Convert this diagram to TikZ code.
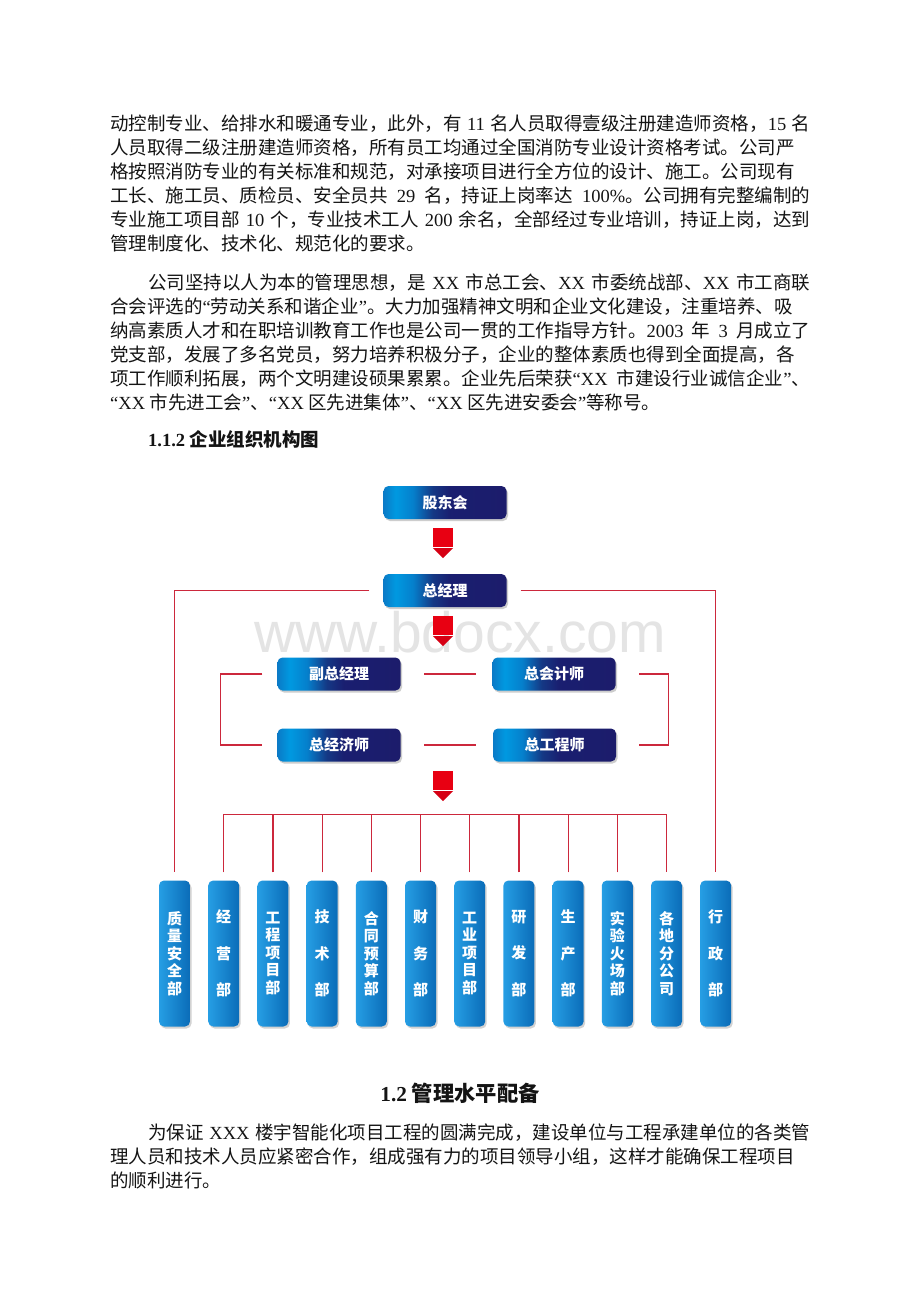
\documentclass[tikz,border=0pt]{standalone}
\usepackage{fontspec}
\setmainfont{Noto Sans CJK SC}
\newfontfamily\tnr{Liberation Serif}
\newfontfamily\wmfont{Liberation Sans}
\newcommand\LT[1]{{\tnr #1}}
\newcommand\bodyfnt{\fontsize{18.5}{24}\selectfont\spaceskip 4.6pt plus 0.6pt minus 0.5pt\relax}
\usetikzlibrary{shadows,calc}
\XeTeXlinebreaklocale "zh"
\XeTeXlinebreakskip=0pt plus 2pt minus 0.5pt
\definecolor{redl}{RGB}{204,40,60}
\definecolor{arrowred}{RGB}{232,0,18}
\definecolor{arrowdark}{RGB}{214,0,20}
\definecolor{wmgray}{RGB}{228,228,228}
\definecolor{textblack}{RGB}{20,20,20}
\definecolor{deptL}{RGB}{38,158,228}
\definecolor{deptR}{RGB}{10,108,184}
\pgfdeclarehorizontalshading{topshade}{100bp}{rgb(0bp)=(0.04,0.48,0.78); rgb(25bp)=(0.04,0.48,0.78); rgb(30bp)=(0,0.6,0.88); rgb(37bp)=(0.02,0.5,0.8); rgb(45bp)=(0.08,0.22,0.52); rgb(52bp)=(0.1,0.12,0.44); rgb(75bp)=(0.11,0.11,0.42); rgb(100bp)=(0.11,0.11,0.42)}
\newcommand\redarrow[2]{%
  \fill[arrowred] (#1-10,#2) rectangle (#1+10,#2+19);
  \fill[arrowdark] (#1-10,#2+20) -- (#1+10,#2+20) -- (#1,#2+30) -- cycle;
}
\begin{document}
\begin{tikzpicture}[x=1pt,y=-1pt,
  body/.style={anchor=base west, inner sep=0pt, text=textblack, font=\bodyfnt},
  topbox/.style={rectangle, rounded corners=5pt, minimum width=123pt, minimum height=33pt, inner sep=0pt,
    shading=topshade, text=white, font=\bfseries\fontsize{15}{15}\selectfont,
    drop shadow={shadow xshift=1.5pt, shadow yshift=-2pt, opacity=0.28, fill=black!70}},
  deptbox/.style={rectangle, rounded corners=5pt, minimum width=31pt, minimum height=146pt, inner sep=0pt,
    left color=deptL, right color=deptR, text=white, align=center,
    drop shadow={shadow xshift=1.5pt, shadow yshift=-2pt, opacity=0.25, fill=black!70}},
  dfive/.style={deptbox, font=\bfseries\fontsize{15}{17.5}\selectfont},
  dthree/.style={deptbox, font=\bfseries\fontsize{15}{36.5}\selectfont},
  rl/.style={draw=redl, line width=1.2pt}
]
\fill[white] (0,0) rectangle (920,1302);
\useasboundingbox (0,0) rectangle (920,1302);

% ---- paragraph 1
\node[body] (a1) at (110,130) {\hbox to 700pt{动控制专业、给排水和暖通专业，此外，有 \LT{11} 名人员取得壹级注册建造师资格，\LT{15} 名}};
\node[body] (a2) at (110,154) {\hbox to 700pt{人员取得二级注册建造师资格，所有员工均通过全国消防专业设计资格考试。公司严}};
\node[body] (a3) at (110,178) {\hbox to 700pt{格按照消防专业的有关标准和规范，对承接项目进行全方位的设计、施工。公司现有}};
\node[body] (a4) at (110,202) {\hbox to 700pt{工长、施工员、质检员、安全员共 \LT{29} 名，持证上岗率达 \LT{100\%}。公司拥有完整编制的}};
\node[body] (a5) at (110,226) {\hbox to 700pt{专业施工项目部 \LT{10} 个，专业技术工人 \LT{200} 余名，全部经过专业培训，持证上岗，达到}};
\node[body] (a6) at (110,250) {管理制度化、技术化、规范化的要求。};

% ---- paragraph 2
\node[body] (b1) at (148,289) {\hbox to 662pt{公司坚持以人为本的管理思想，是 \LT{XX} 市总工会、\LT{XX} 市委统战部、\LT{XX} 市工商联}};
\node[body] (b2) at (110,313) {\hbox to 700pt{合会评选的\LT{“}劳动关系和谐企业\LT{”}。大力加强精神文明和企业文化建设，注重培养、吸}};
\node[body] (b3) at (110,337) {\hbox to 700pt{纳高素质人才和在职培训教育工作也是公司一贯的工作指导方针。\LT{2003} 年 \LT{3} 月成立了}};
\node[body] (b4) at (110,361) {\hbox to 700pt{党支部，发展了多名党员，努力培养积极分子，企业的整体素质也得到全面提高，各}};
\node[body] (b5) at (110,385) {\hbox to 700pt{项工作顺利拓展，两个文明建设硕果累累。企业先后荣获\LT{“XX} 市建设行业诚信企业\LT{”}、}};
\node[body] (b6) at (110,409) {\LT{“XX} 市先进工会\LT{”}、\LT{“XX} 区先进集体\LT{”}、\LT{“XX} 区先进安委会\LT{”}等称号。};

% ---- heading 1.1.2
\node[body] (h1) at (148,446) {\bfseries\LT{1.1.2} 企业组织机构图};

% ---- watermark
\node[anchor=base, inner sep=0pt, text=wmgray, font=\wmfont\fontsize{57}{57}\selectfont] (wm) at (460,652) {www.bdocx.com};

% ---- top boxes
\node[topbox] (gd) at (445,502.5) {股东会};
\node[topbox] (zjl) at (445,590.5) {总经理};
\node[topbox] (fzjl) at (339,674) {副总经理};
\node[topbox] (zkjs) at (554,674) {总会计师};
\node[topbox] (zjjs) at (339,745) {总经济师};
\node[topbox] (zgcs) at (554.5,745) {总工程师};

% ---- red arrows
\redarrow{443}{528}
\redarrow{443}{616}
\redarrow{443}{771}

% ---- departments
\node[dfive]  (d0)  at (174.5,953.5) {质\\量\\安\\全\\部};
\node[dthree] (d1)  at (223.7,953.5) {经\\营\\部};
\node[dfive]  (d2)  at (272.9,953.5) {工\\程\\项\\目\\部};
\node[dthree] (d3)  at (322.1,953.5) {技\\术\\部};
\node[dfive]  (d4)  at (371.3,953.5) {合\\同\\预\\算\\部};
\node[dthree] (d5)  at (420.5,953.5) {财\\务\\部};
\node[dfive]  (d6)  at (469.7,953.5) {工\\业\\项\\目\\部};
\node[dthree] (d7)  at (518.9,953.5) {研\\发\\部};
\node[dthree] (d8)  at (568.1,953.5) {生\\产\\部};
\node[dfive]  (d9)  at (617.3,953.5) {实\\验\\火\\场\\部};
\node[dfive]  (d10) at (666.5,953.5) {各\\地\\分\\公\\司};
\node[dthree] (d11) at (715.7,953.5) {行\\政\\部};

% ---- connectors
\draw[rl] ([xshift=-14pt]zjl.west) -| ([yshift=8pt]d0.north);
\draw[rl] ([xshift=14pt]zjl.east) -| ([yshift=8pt]d11.north);
\draw[rl] ([xshift=23.5pt]fzjl.east) -- ([xshift=-16.5pt]zkjs.west);
\draw[rl] ([xshift=23.5pt]zjjs.east) -- ([xshift=-16.5pt]zgcs.west);
\draw[rl] ([xshift=-15pt]fzjl.west) -- ++(-42,0) |- ([xshift=-15pt]zjjs.west);
\draw[rl] ([xshift=23.5pt]zkjs.east) -- ++(29,0) |- ([xshift=23pt]zgcs.east);
\draw[rl] ([yshift=8pt]d1.north) |- ([yshift=66pt]d10.north) -- ([yshift=8pt]d10.north);
\foreach \i in {2,...,9} {
  \draw[rl] ([yshift=8pt]d\i.north) -- ([yshift=66pt]d\i.north);
}

% ---- heading 1.2
\node[anchor=base, inner sep=0pt, text=textblack, font=\bfseries\fontsize{21.3}{24}\selectfont] (h2) at (460,1101) {\LT{1.2} 管理水平配备};

% ---- paragraph 3
\node[body] (c1) at (148,1139) {\hbox to 662pt{为保证 \LT{XXX} 楼宇智能化项目工程的圆满完成，建设单位与工程承建单位的各类管}};
\node[body] (c2) at (110,1163) {\hbox to 700pt{理人员和技术人员应紧密合作，组成强有力的项目领导小组，这样才能确保工程项目}};
\node[body] (c3) at (110,1187) {的顺利进行。};
\end{tikzpicture}
\end{document}
